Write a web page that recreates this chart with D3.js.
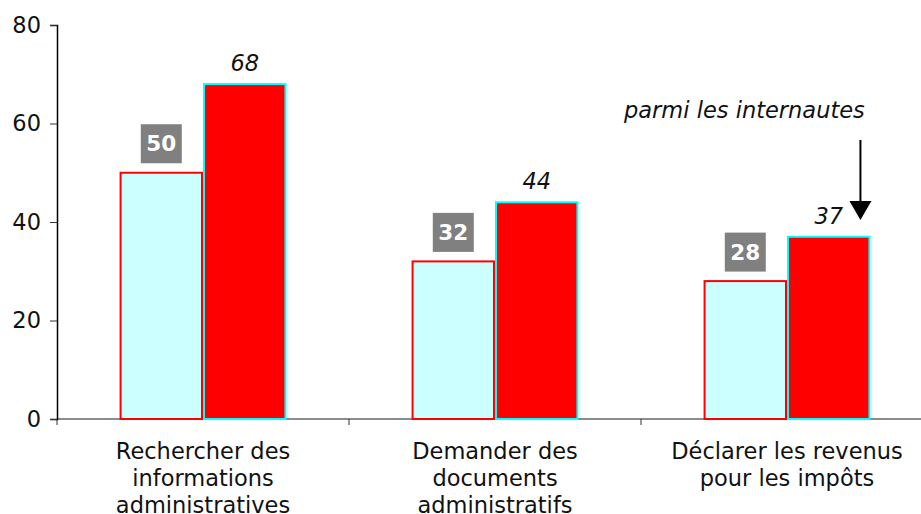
<!DOCTYPE html>
<html>
<head>
<meta charset="utf-8">
<script src="https://cdn.jsdelivr.net/npm/d3@7"></script>
<style>
  html, body { margin: 0; padding: 0; background: #fff; }
  svg { display: block; font-family: "DejaVu Sans", Verdana, sans-serif; }
</style>
</head>
<body>
<svg id="chart" width="921" height="514"></svg>
<script>
const categories = [
  ["Rechercher des", "informations", "administratives"],
  ["Demander des", "documents", "administratifs"],
  ["Déclarer les revenus", "pour les impôts"]
];
const categoryKeys = ["info", "docs", "impots"];
const seriesNames = ["ensemble", "internautes"];
const valuesEnsemble = [50, 32, 28];
const valuesInternautes = [68, 44, 37];
const yTicks = [0, 20, 40, 60, 80];
const annotationText = "parmi les internautes";

const svg = d3.select("#chart");
const fs = 22.5;

const x0 = d3.scaleBand().domain(categoryKeys).range([57, 933]).paddingInner(0).paddingOuter(0);
const x1 = d3.scaleBand().domain(seriesNames).range([0, x0.bandwidth()]).paddingInner(0).paddingOuter(0.75);
const y = d3.scaleLinear().domain([0, 80]).range([419, 25]);

// X axis
const xAxisG = svg.append("g").attr("transform", `translate(0,${y(0)})`);
xAxisG.append("line").attr("x1", x0.range()[0]).attr("x2", x0.range()[1])
  .attr("y1", 0).attr("y2", 0).attr("stroke", "#666").attr("stroke-width", 1.5);
const bounds = categoryKeys.map(k => x0(k)).concat([x0.range()[1]]);
xAxisG.selectAll("line.xt").data(bounds).join("line").attr("class", "xt")
  .attr("x1", d => d).attr("x2", d => d).attr("y1", 0).attr("y2", 6)
  .attr("stroke", "#333").attr("stroke-width", 1);

// Y axis
const yAxis = d3.axisLeft(y).tickValues(yTicks).tickSize(7).tickPadding(9).tickFormat(d3.format("d"));
const yAxisG = svg.append("g").attr("transform", `translate(57,0)`).call(yAxis);
yAxisG.select(".domain").attr("stroke", "#000").attr("stroke-width", 1.5);
yAxisG.selectAll(".tick line").attr("stroke", "#333");
yAxisG.selectAll(".tick text").attr("font-size", fs).attr("fill", "#111")
  .attr("font-family", "DejaVu Sans, Verdana, sans-serif");

// bars
const data = categoryKeys.map((k, i) => ({ key: k, vals: [valuesEnsemble[i], valuesInternautes[i]] }));
const groups = svg.selectAll("g.grp").data(data).join("g").attr("class", "grp")
  .attr("transform", d => `translate(${x0(d.key)},0)`);

groups.selectAll("rect.bar").data(d => d.vals.map((v, j) => ({ s: seriesNames[j], v })))
  .join("rect").attr("class", "bar")
  .attr("x", d => x1(d.s) + 1)
  .attr("width", x1.bandwidth() - 2)
  .attr("y", d => y(d.v))
  .attr("height", d => y(0) - y(d.v))
  .attr("fill", d => d.s === "ensemble" ? "#CCFFFF" : "#FF0000")
  .attr("stroke", d => d.s === "ensemble" ? "#FF0000" : "#00FFFF")
  .attr("stroke-width", 2);

// label boxes for ensemble
const boxW = 41, boxH = 39;
groups.each(function(d) {
  const g = d3.select(this);
  const cx = x1("ensemble") + x1.bandwidth() / 2;
  const cy = y(d.vals[0]) - 29;
  g.append("rect").attr("x", cx - boxW / 2).attr("y", cy - boxH / 2)
    .attr("width", boxW).attr("height", boxH).attr("fill", "#808080");
  g.append("text").attr("x", cx).attr("y", cy).attr("dy", "0.36em")
    .attr("text-anchor", "middle").attr("font-size", 21.5).attr("font-weight", "bold")
    .attr("fill", "#fff").text(d.vals[0]);
  const cx2 = x1("internautes") + x1.bandwidth() / 2;
  g.append("text").attr("x", cx2).attr("y", y(d.vals[1]) - 13)
    .attr("text-anchor", "middle").attr("font-size", fs).attr("font-style", "italic")
    .attr("fill", "#111").text(d.vals[1]);
});

// category labels
categories.forEach((lines, i) => {
  const cx = x0(categoryKeys[i]) + x0.bandwidth() / 2;
  const t = svg.append("text").attr("x", cx).attr("y", y(0) + 40)
    .attr("text-anchor", "middle").attr("font-size", fs).attr("fill", "#111");
  lines.forEach((ln, j) => {
    t.append("tspan").attr("x", cx).attr("dy", j === 0 ? 0 : 27).text(ln);
  });
});

// annotation
const lastKey = categoryKeys[2];
const arrowX = x0(lastKey) + x1("internautes") + x1.bandwidth() - 10;
svg.append("text").attr("x", arrowX - 116).attr("y", 118)
  .attr("text-anchor", "middle").attr("font-size", fs).attr("font-style", "italic")
  .attr("fill", "#111").text(annotationText);
svg.append("line").attr("x1", arrowX).attr("x2", arrowX).attr("y1", 140).attr("y2", 202)
  .attr("stroke", "#000").attr("stroke-width", 2);
svg.append("path").attr("d", `M${arrowX - 11},201 L${arrowX + 11},201 L${arrowX},220 Z`).attr("fill", "#000");
</script>
</body>
</html>
